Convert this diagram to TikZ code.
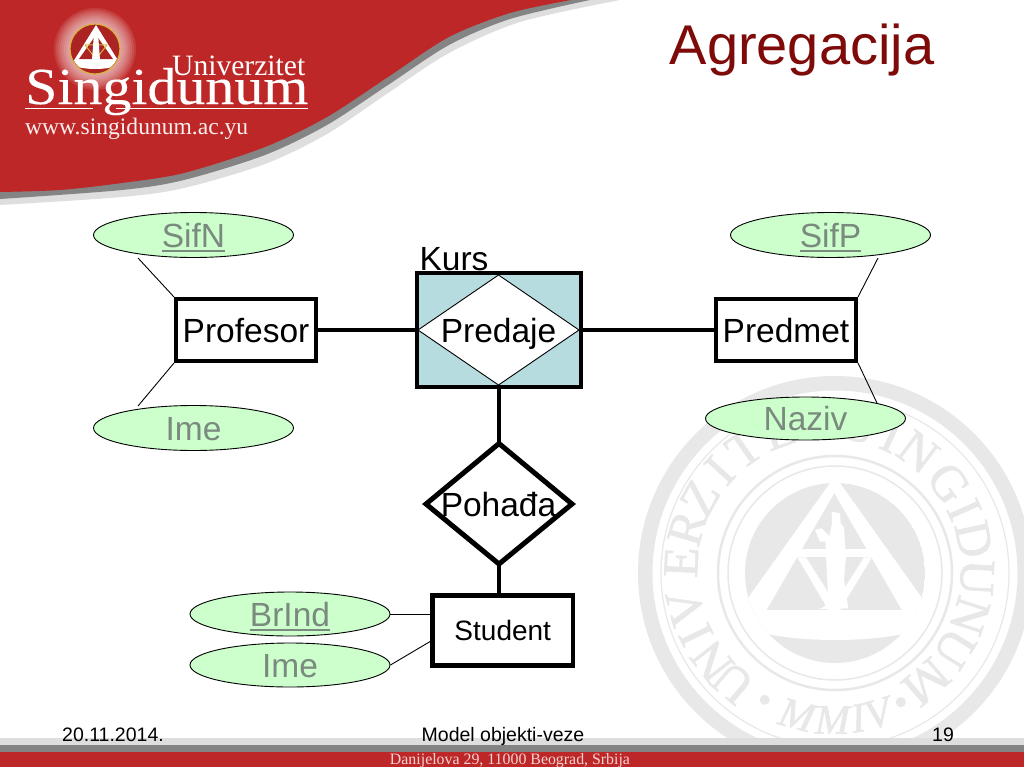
\documentclass[tikz,border=0pt]{standalone}
\usepackage{fontspec}
\usepackage{graphicx}
\setmainfont{Liberation Sans}
\newfontfamily\serifl{Liberation Serif}
\newfontfamily\serifb[FakeBold=0.25]{Liberation Serif}
\newfontfamily\serift[FakeBold=1.2]{Liberation Serif}
\usetikzlibrary{shapes.geometric,calc}
\definecolor{bandred}{HTML}{BE2727}
\definecolor{bandgray}{HTML}{848484}
\definecolor{bandlight}{HTML}{DEDEDE}
\definecolor{sealgray}{HTML}{E8E8E8}
\definecolor{attrfill}{HTML}{CCFFCC}
\definecolor{attrtext}{HTML}{7A8A7E}
\definecolor{kursfill}{HTML}{B7DCE0}
\definecolor{titlered}{HTML}{7E0A0A}
\definecolor{gold}{HTML}{D8B23A}
\newcommand{\ulattr}[1]{\leavevmode\vtop{\hbox{#1}\kern2.5pt\hrule height 2pt}}
\tikzset{
  attr/.style={ellipse,draw=black,line width=0.9pt,fill=attrfill,inner sep=0pt,minimum width=200pt,minimum height=45pt,text=attrtext,font=\fontsize{33.5}{33}\selectfont,text height=24pt,text depth=0pt},
  entity/.style={rectangle,draw=black,line width=4pt,fill=white,inner sep=0pt,minimum width=140pt,minimum height=62pt,font=\fontsize{33.5}{33}\selectfont,text height=24pt,text depth=0pt},
  rellabel/.style={inner sep=0pt,font=\fontsize{33.5}{33}\selectfont,text height=24pt,text depth=0pt},
  thick link/.style={draw=black,line width=4pt},
  thin link/.style={draw=black,line width=0.9pt},
  foot/.style={inner sep=0pt,anchor=base,font=\fontsize{19.5}{20}\selectfont},
  sealt/.style={inner sep=0pt,text=sealgray,font=\serift\fontsize{50}{50}\selectfont},
  sealm/.style={inner sep=0pt,text=sealgray,font=\serift\itshape\fontsize{42}{42}\selectfont},
}
\begin{document}
\begin{tikzpicture}[x=1pt,y=-1pt]
\useasboundingbox (0,0) rectangle (1024,768);
\clip (0,0) rectangle (1024,768);
\fill[white] (0,0) rectangle (1024,768);

% ---- watermark seal
\coordinate (seal) at (835,573);
\coordinate (lettering) at (829,570);
\begin{scope}
\clip (0,0) rectangle (1024,738);
\draw[sealgray,line width=14.5pt] (seal) circle[radius=189.75];
\draw[sealgray,line width=1.2pt] (seal) circle[radius=174];
\draw[sealgray,line width=2.5pt] (seal) circle[radius=117];
\draw[sealgray,line width=1.5pt] (seal) circle[radius=107];
\foreach \a/\l [count=\i] in {229.6/U,218/N,206/I,194.7/V,177/E,163.6/R,150.7/Z,137.6/I,125/T,110/E,94/T,
  78/S,65/I,53/N,36/G,24/I,12/D,-3/U,-18/N,-32/U,-49/M}{
  \node[sealt,rotate=\a-90] (s\i) at ($(lettering)+(-\a:148)$) {\l};
}
\foreach \a/\l [count=\i] in {255/M,269/M,279/I,287/V}{
  \node[sealm,rotate=\a-270] (m\i) at ($(seal)+(-\a:147)$) {\l};
}
\fill[sealgray] ($(seal)+(-241:145)$) coordinate (d1) circle[radius=5];
\fill[sealgray] ($(seal)+(-297:145)$) coordinate (d2) circle[radius=5];
\begin{scope}
\clip (seal) circle[radius=90];
\fill[sealgray] (seal) circle[radius=90];
\fill[white] (835,476) -- (738,612) -- (738,625) .. controls (780,645) and (890,645) .. (932,625) -- (932,612) -- cycle;
\end{scope}
\begin{scope}[shift={(720,470)},x=0.3333pt,y=-0.3333pt]
\fill[sealgray] (343,70) -- (140,420) -- (545,420) -- cycle;
\fill[white] (225,238) rectangle (460,262);
\fill[white] (232,262) -- (258,262) -- (345,400) -- (432,262) -- (456,262) -- (360,420) -- (325,420) -- cycle;
\fill[white] (335,125) -- (360,130) -- (362,160) -- (372,172) -- (378,260) -- (372,330) -- (385,415) -- (295,418) -- (335,400) -- (322,330) -- (318,240) -- (330,190) -- (336,160) -- cycle;
\fill[white] (285,180) -- (305,175) -- (330,200) -- (325,215) -- (300,215) -- cycle;
\fill[white] (316,210) -- (323,210) -- (332,395) -- (325,395) -- cycle;
\end{scope}
\end{scope}

% ---- header swoosh
\fill[bandlight] plot[smooth] coordinates {(0,205) (122,197) (184,188) (265,164) (327,134) (388,93) (449,53) (520,22) (620,0)} -- (0,0) -- cycle;
\fill[bandgray] plot[smooth] coordinates {(0,199) (122,190) (184,180) (265,155) (327,125) (388,85) (449,45) (510,19) (590,0)} -- (0,0) -- cycle;
\fill[bandred] plot[smooth] coordinates {(0,192) (60,190) (122,183) (184,173) (265,147) (327,117) (388,77) (449,37) (510,13) (571,0)} -- (0,0) -- cycle;

% ---- logo
\foreach \r in {27,29,...,41}{
  \fill[white,opacity=0.1] (95,49) circle[radius=\r];
}
\fill[bandred!90!black] (95,49) circle[radius=25];
\draw[gold,line width=1.2pt] (95,49) circle[radius=25];
\begin{scope}
\clip (95,49) circle[radius=24];
\fill[white] (96,25) -- (73,62) -- (119,62) -- cycle;
\fill[bandred!90!black] (96,35) -- (79,59) -- (113,59) -- cycle;
\draw[gold,line width=1pt] (85,45) -- (107,45) (85,45) -- (96,59) -- (107,45);
\fill[white] (71,62) rectangle (121,66);
\fill[white] (75,66) .. controls (85,70) and (105,70) .. (117,66) -- cycle;
\fill[white] (94,33) -- (98,33) -- (100,60) -- (92,60) -- cycle;
\end{scope}
\node[inner sep=0pt,anchor=base west,text=white] (univ) at (172,75) {\resizebox{133pt}{!}{\serifl Univerzitet}};
\node[inner sep=0pt,anchor=base west,text=white] (sing) at (25,104) {\resizebox{283pt}{36pt}{\serifb Singidunum}};
\fill[white] (25,107.5) rectangle (93,109.2);
\fill[white] (116,107.5) rectangle (308,109.2);
\node[inner sep=0pt,anchor=base west,text=white!92!bandred] (www) at (25,134) {\resizebox{223pt}{!}{\serifl www.singidunum.ac.yu}};

% ---- title
\node[inner sep=0pt,anchor=base,text=titlered,font=\fontsize{56}{56}\selectfont] (title) at (802,64) {Agregacija};

% ---- free ends of the attribute links
\coordinate (a1) at (138,258);
\coordinate (a2) at (138,406);
\coordinate (a3) at (878,258);
\coordinate (a4) at (877,403);
\coordinate (a6) at (431,641);

% ---- entities
\node[rectangle,draw=black,line width=4pt,fill=kursfill,inner sep=0pt,minimum width=163.5pt,minimum height=113.5pt] (kurs) at (498.75,330) {};
\coordinate (pl) at (418,330);
\coordinate (pr) at (579,330);
\coordinate (pt) at (498.5,275);
\coordinate (pb) at (498.5,385);
\filldraw[fill=white,draw=black,line width=0.9pt] (pl) -- (pt) -- (pr) -- (pb) -- cycle;
\node[rellabel] (predaje) at (498.5,330) {Predaje};
\node[inner sep=0pt,anchor=base,font=\fontsize{33.5}{33}\selectfont] (kurslabel) at (454,270) {Kurs};

\node[entity] (profesor) at (246,330) {Profesor};
\node[entity] (predmet) at (786,330) {Predmet};
\node[entity,line width=4.5pt,minimum width=140.5pt,minimum height=70pt,font=\fontsize{28}{28}\selectfont,text height=20pt] (student) at (502.75,630.25) {Student};

\coordinate (ql) at (426,504);
\coordinate (qr) at (572,504);
\coordinate (qt) at (499,443.5);
\coordinate (qb) at (499,564);
\filldraw[fill=white,draw=black,line width=5pt,miter limit=10] (ql) -- (qt) -- (qr) -- (qb) -- cycle;
\node[rellabel] (pohadja) at (498.5,504) {Pohađa};

% ---- relationship links
\draw[thick link] (profesor.east) -- (kurs.west);
\draw[thick link] (kurs.east) -- (predmet.west);
\draw[thick link] (kurs.south -| qt) -- (qt);
\draw[thick link] (qb) -- (qb |- student.north);

% ---- attributes
\node[attr] (sifn) at (193.5,235) {\ulattr{SifN}};
\node[attr] (ime1) at (193.5,428) {Ime};
\node[attr] (sifp) at (830.5,235) {\ulattr{SifP}};
\node[attr,minimum height=43pt] (naziv) at (805.5,418.5) {Naziv};
\node[attr,minimum height=44pt] (brind) at (290,614) {\ulattr{BrInd}};
\node[attr,minimum height=44pt] (ime2) at (290,665) {Ime};

\draw[thin link] (a1) -- (profesor.north west);
\draw[thin link] (a2) -- (profesor.south west);
\draw[thin link] (a3) -- (predmet.north east);
\draw[thin link] (a4) -- (predmet.south east);
\draw[thin link] (brind.east) -- (brind.east -| student.west);
\draw[thin link] (ime2.east) -- (a6);

% ---- footer
\fill[bandlight] (0,738) rectangle (1024,745);
\fill[bandgray] (0,745) rectangle (1024,752);
\fill[bandred] (0,752) rectangle (1024,767);
\node[foot] (date) at (113,741) {20.11.2014.};
\node[foot] (model) at (503,741) {Model objekti-veze};
\node[foot] (page) at (943,741) {19};
\node[inner sep=0pt,anchor=base,text=white!80!bandred] (addr) at (510,764) {\resizebox{240pt}{!}{\serifl Danijelova 29, 11000 Beograd, Srbija}};
\end{tikzpicture}
\end{document}
